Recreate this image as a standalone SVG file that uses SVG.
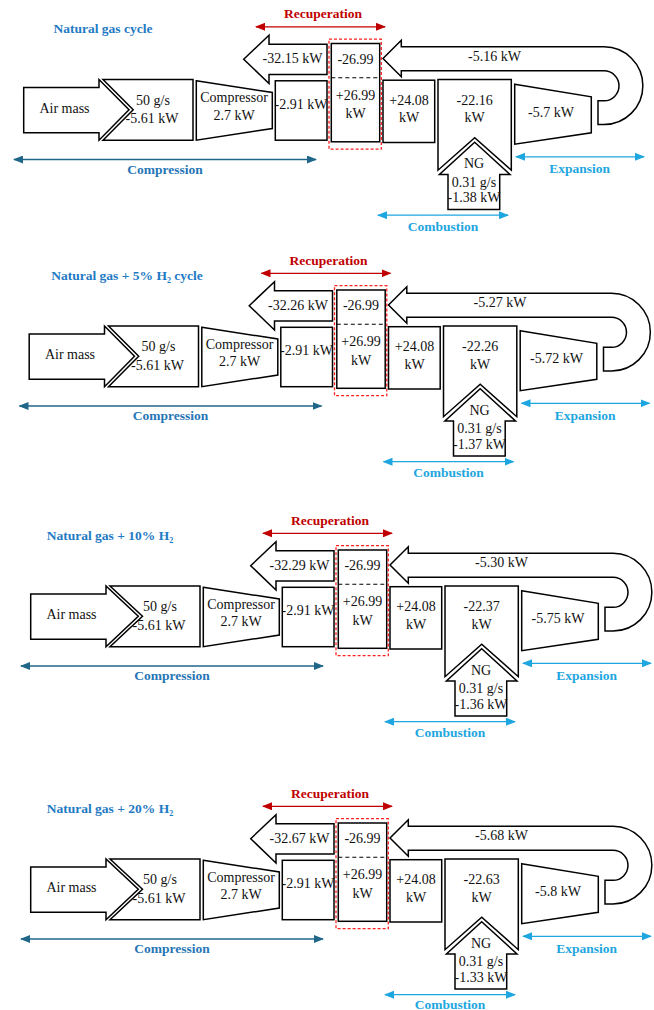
<svg xmlns="http://www.w3.org/2000/svg" width="654" height="1010" viewBox="0 0 654 1010">
<style>
.s{fill:#fff;stroke:#000;stroke-width:1.5;stroke-linejoin:miter}
.dl{stroke:#000;stroke-width:1.1;stroke-dasharray:4 3;fill:none}
.rd{fill:none;stroke:#ff2020;stroke-width:1.3;stroke-dasharray:3 2}
.t{font-family:"Liberation Serif","Times New Roman",serif;font-size:14px;text-anchor:middle;fill:#111}
.b{font-family:"Liberation Serif","Times New Roman",serif;font-weight:bold;font-size:13.5px;text-anchor:middle}
.ttl{fill:#1f7ac4}
.rc{fill:#c00000}
.cp{fill:#2676b6}
.ex{fill:#1ea6e0}
.lr{stroke:#c00000;stroke-width:1.3;fill:none;marker-start:url(#mr);marker-end:url(#mr)}
.lc{stroke:#1f6688;stroke-width:1.3;fill:none;marker-start:url(#mc);marker-end:url(#mc)}
.le{stroke:#1ea6e0;stroke-width:1.3;fill:none;marker-start:url(#me);marker-end:url(#me)}
</style>
<defs>
<marker id="mr" markerUnits="userSpaceOnUse" viewBox="0 0 10 8" refX="9" refY="4" markerWidth="10" markerHeight="8" orient="auto-start-reverse"><path d="M0,0 L10,4 L0,8 Z" fill="#c00000"/></marker>
<marker id="mc" markerUnits="userSpaceOnUse" viewBox="0 0 10 8" refX="9" refY="4" markerWidth="10" markerHeight="8" orient="auto-start-reverse"><path d="M0,0 L10,4 L0,8 Z" fill="#1f6688"/></marker>
<marker id="me" markerUnits="userSpaceOnUse" viewBox="0 0 10 8" refX="9" refY="4" markerWidth="10" markerHeight="8" orient="auto-start-reverse"><path d="M0,0 L10,4 L0,8 Z" fill="#1ea6e0"/></marker>
</defs>

<!-- Panel 1 -->
<g id="panel1" transform="translate(-7,-6.5)">
<text class="b ttl" x="110" y="39.5">Natural gas cycle</text>
<g id="p1-connectors">
<line class="lr" x1="263" y1="33.3" x2="392" y2="33.3"/>
<text class="b rc" x="330" y="24.5">Recuperation</text>
<line class="lc" x1="21" y1="166" x2="323" y2="166"/>
<text class="b cp" x="172" y="180.2">Compression</text>
<line class="le" x1="523" y1="163.3" x2="651" y2="163.3"/>
<text class="b ex" x="586.7" y="179.5">Expansion</text>
<line class="le" x1="385" y1="221.7" x2="515" y2="221.7"/>
<text class="b ex" x="450" y="237">Combustion</text>
</g>
<g id="p1-air"><polygon class="s" points="30.7,94 106,94 106,86 136,116.3 106,146.7 106,139.3 30.7,139.3"/><text class="t" x="71.5" y="119">Air mass</text></g>
<g id="p1-feed"><polygon class="s" points="110,86 200,86 200,146.7 110,146.7 140.2,116.3"/><text class="t" x="160" y="111.4">50 g/s</text><text class="t" x="159" y="129.7">-5.61 kW</text></g>
<g id="p1-compressor"><polygon class="s" points="203.3,87.3 279.3,99 279.3,135 203.3,146.7"/><text class="t" x="241" y="108.7">Compressor</text><text class="t" x="241" y="126.4">2.7 kW</text></g>
<g id="p1-loss"><rect class="s" x="282.3" y="87.3" width="51.7" height="59.4"/><text class="t" x="308" y="115.4">-2.91 kW</text></g>
<g id="p1-return"><polygon class="s" points="250.7,65.7 276,41.7 276,50.7 334,50.7 334,81 276,81 276,90"/><text class="t" x="299.5" y="69.5">-32.15 kW</text></g>
<g id="p1-recuperator"><rect class="s" x="338.3" y="50" width="48.4" height="98.3"/><line class="dl" x1="338.3" y1="84.3" x2="386.7" y2="84.3"/><rect class="rd" x="336" y="45.7" width="52.3" height="110"/><text class="t" x="362.5" y="70.4">-26.99</text><text class="t" x="362.5" y="106.4">+26.99</text><text class="t" x="362.5" y="124.7">kW</text></g>
<g id="p1-heater"><rect class="s" x="390" y="86.7" width="51.7" height="62.3"/><text class="t" x="416" y="111.4">+24.08</text><text class="t" x="416" y="128.7">kW</text></g>
<g id="p1-combustor"><polygon class="s" points="445,86 518.3,86 518.3,176.7 481.7,144.3 445,176.7"/><text class="t" x="481.7" y="111.4">-22.16</text><text class="t" x="481.7" y="128.7">kW</text></g>
<g id="p1-ng"><polygon class="s" points="481.7,148.7 517,181 506.7,181 506.7,216 455,216 455,181 446.4,181"/><text class="t" x="481" y="174.7">NG</text><text class="t" x="481" y="193">0.31 g/s</text><text class="t" x="481" y="208.7">-1.38 kW</text></g>
<g id="p1-turbine"><polygon class="s" points="521.7,90.7 598.3,103.3 598.3,139.3 521.7,150.7"/><text class="t" x="558" y="123">-5.7 kW</text></g>
<g id="p1-exhaust"><path class="s" d="M605,107.3 L611,107.3 A15,15 0 0 0 611,77.3 L408.3,77.3 L408.3,83.3 L390,65 L408.3,46.7 L408.3,53.3 L611,53.3 A38.85,38.85 0 0 1 611,131 L605,131 Z"/><text class="t" x="501.5" y="67.2">-5.16 kW</text></g>
</g>

<!-- Panel 2 -->
<g id="panel2" transform="translate(-1.5,240)">
<text class="b ttl" x="128.5" y="39.5">Natural gas + 5% H₂ cycle</text>
<g id="p2-connectors">
<line class="lr" x1="263" y1="33.3" x2="392" y2="33.3"/>
<text class="b rc" x="330" y="24.5">Recuperation</text>
<line class="lc" x1="21" y1="166" x2="323" y2="166"/>
<text class="b cp" x="172" y="180.2">Compression</text>
<line class="le" x1="523" y1="163.3" x2="651" y2="163.3"/>
<text class="b ex" x="586.7" y="179.5">Expansion</text>
<line class="le" x1="385" y1="221.7" x2="515" y2="221.7"/>
<text class="b ex" x="450" y="237">Combustion</text>
</g>
<g id="p2-air"><polygon class="s" points="30.7,94 106,94 106,86 136,116.3 106,146.7 106,139.3 30.7,139.3"/><text class="t" x="71.5" y="119">Air mass</text></g>
<g id="p2-feed"><polygon class="s" points="110,86 200,86 200,146.7 110,146.7 140.2,116.3"/><text class="t" x="160" y="111.4">50 g/s</text><text class="t" x="159" y="129.7">-5.61 kW</text></g>
<g id="p2-compressor"><polygon class="s" points="203.3,87.3 279.3,99 279.3,135 203.3,146.7"/><text class="t" x="241" y="108.7">Compressor</text><text class="t" x="241" y="126.4">2.7 kW</text></g>
<g id="p2-loss"><rect class="s" x="282.3" y="87.3" width="51.7" height="59.4"/><text class="t" x="308" y="115.4">-2.91 kW</text></g>
<g id="p2-return"><polygon class="s" points="250.7,65.7 276,41.7 276,50.7 334,50.7 334,81 276,81 276,90"/><text class="t" x="299.5" y="69.5">-32.26 kW</text></g>
<g id="p2-recuperator"><rect class="s" x="338.3" y="50" width="48.4" height="98.3"/><line class="dl" x1="338.3" y1="84.3" x2="386.7" y2="84.3"/><rect class="rd" x="336" y="45.7" width="52.3" height="110"/><text class="t" x="362.5" y="70.4">-26.99</text><text class="t" x="362.5" y="106.4">+26.99</text><text class="t" x="362.5" y="124.7">kW</text></g>
<g id="p2-heater"><rect class="s" x="390" y="86.7" width="51.7" height="62.3"/><text class="t" x="416" y="111.4">+24.08</text><text class="t" x="416" y="128.7">kW</text></g>
<g id="p2-combustor"><polygon class="s" points="445,86 518.3,86 518.3,176.7 481.7,144.3 445,176.7"/><text class="t" x="481.7" y="111.4">-22.26</text><text class="t" x="481.7" y="128.7">kW</text></g>
<g id="p2-ng"><polygon class="s" points="481.7,148.7 517,181 506.7,181 506.7,216 455,216 455,181 446.4,181"/><text class="t" x="481" y="174.7">NG</text><text class="t" x="481" y="193">0.31 g/s</text><text class="t" x="481" y="208.7">-1.37 kW</text></g>
<g id="p2-turbine"><polygon class="s" points="521.7,90.7 598.3,103.3 598.3,139.3 521.7,150.7"/><text class="t" x="558" y="123">-5.72 kW</text></g>
<g id="p2-exhaust"><path class="s" d="M605,107.3 L613,107.3 A15,15 0 0 0 613,77.3 L408.3,77.3 L408.3,83.3 L390,65 L408.3,46.7 L408.3,53.3 L613,53.3 A38.85,38.85 0 0 1 613,131 L605,131 Z"/><text class="t" x="501.5" y="67.2">-5.27 kW</text></g>
</g>

<!-- Panel 3 -->
<g id="panel3" transform="translate(0,500)">
<text class="b ttl" x="110" y="39.5">Natural gas + 10% H₂</text>
<g id="p3-connectors">
<line class="lr" x1="263" y1="33.3" x2="392" y2="33.3"/>
<text class="b rc" x="330" y="24.5">Recuperation</text>
<line class="lc" x1="21" y1="166" x2="323" y2="166"/>
<text class="b cp" x="172" y="180.2">Compression</text>
<line class="le" x1="523" y1="163.3" x2="651" y2="163.3"/>
<text class="b ex" x="586.7" y="179.5">Expansion</text>
<line class="le" x1="385" y1="221.7" x2="515" y2="221.7"/>
<text class="b ex" x="450" y="237">Combustion</text>
</g>
<g id="p3-air"><polygon class="s" points="30.7,94 106,94 106,86 138.3,116.3 106,146.7 106,139.3 30.7,139.3"/><text class="t" x="71.5" y="119">Air mass</text></g>
<g id="p3-feed"><polygon class="s" points="110,86 200,86 200,146.7 110,146.7 142.5,116.3"/><text class="t" x="160" y="111.4">50 g/s</text><text class="t" x="159" y="129.7">-5.61 kW</text></g>
<g id="p3-compressor"><polygon class="s" points="203.3,87.3 279.3,99 279.3,135 203.3,146.7"/><text class="t" x="241" y="108.7">Compressor</text><text class="t" x="241" y="126.4">2.7 kW</text></g>
<g id="p3-loss"><rect class="s" x="282.3" y="87.3" width="51.7" height="59.4"/><text class="t" x="308" y="115.4">-2.91 kW</text></g>
<g id="p3-return"><polygon class="s" points="250.7,65.7 276,41.7 276,50.7 334,50.7 334,81 276,81 276,90"/><text class="t" x="299.5" y="69.5">-32.29 kW</text></g>
<g id="p3-recuperator"><rect class="s" x="338.3" y="50" width="48.4" height="98.3"/><line class="dl" x1="338.3" y1="84.3" x2="386.7" y2="84.3"/><rect class="rd" x="336" y="45.7" width="52.3" height="110"/><text class="t" x="362.5" y="70.4">-26.99</text><text class="t" x="362.5" y="106.4">+26.99</text><text class="t" x="362.5" y="124.7">kW</text></g>
<g id="p3-heater"><rect class="s" x="390" y="86.7" width="51.7" height="62.3"/><text class="t" x="416" y="111.4">+24.08</text><text class="t" x="416" y="128.7">kW</text></g>
<g id="p3-combustor"><polygon class="s" points="445,86 518.3,86 518.3,176.7 481.7,144.3 445,176.7"/><text class="t" x="481.7" y="111.4">-22.37</text><text class="t" x="481.7" y="128.7">kW</text></g>
<g id="p3-ng"><polygon class="s" points="481.7,148.7 517,181 506.7,181 506.7,216 455,216 455,181 446.4,181"/><text class="t" x="481" y="174.7">NG</text><text class="t" x="481" y="193">0.31 g/s</text><text class="t" x="481" y="208.7">-1.36 kW</text></g>
<g id="p3-turbine"><polygon class="s" points="521.7,90.7 598.3,103.3 598.3,139.3 521.7,150.7"/><text class="t" x="558" y="123">-5.75 kW</text></g>
<g id="p3-exhaust"><path class="s" d="M605,107.3 L613,107.3 A15,15 0 0 0 613,77.3 L408.3,77.3 L408.3,83.3 L390,65 L408.3,46.7 L408.3,53.3 L613,53.3 A38.85,38.85 0 0 1 613,131 L605,131 Z"/><text class="t" x="501.5" y="67.2">-5.30 kW</text></g>
</g>

<!-- Panel 4 -->
<g id="panel4" transform="translate(0,773)">
<text class="b ttl" x="110" y="39.5">Natural gas + 20% H₂</text>
<g id="p4-connectors">
<line class="lr" x1="263" y1="33.3" x2="392" y2="33.3"/>
<text class="b rc" x="330" y="24.5">Recuperation</text>
<line class="lc" x1="21" y1="166" x2="323" y2="166"/>
<text class="b cp" x="172" y="180.2">Compression</text>
<line class="le" x1="523" y1="163.3" x2="651" y2="163.3"/>
<text class="b ex" x="586.7" y="179.5">Expansion</text>
<line class="le" x1="385" y1="221.7" x2="515" y2="221.7"/>
<text class="b ex" x="450" y="235.5">Combustion</text>
</g>
<g id="p4-air"><polygon class="s" points="30.7,94 106,94 106,86 138.3,116.3 106,146.7 106,139.3 30.7,139.3"/><text class="t" x="71.5" y="119">Air mass</text></g>
<g id="p4-feed"><polygon class="s" points="110,86 200,86 200,146.7 110,146.7 142.5,116.3"/><text class="t" x="160" y="111.4">50 g/s</text><text class="t" x="159" y="129.7">-5.61 kW</text></g>
<g id="p4-compressor"><polygon class="s" points="203.3,87.3 279.3,99 279.3,135 203.3,146.7"/><text class="t" x="241" y="108.7">Compressor</text><text class="t" x="241" y="126.4">2.7 kW</text></g>
<g id="p4-loss"><rect class="s" x="282.3" y="87.3" width="51.7" height="59.4"/><text class="t" x="308" y="115.4">-2.91 kW</text></g>
<g id="p4-return"><polygon class="s" points="250.7,65.7 276,41.7 276,50.7 334,50.7 334,81 276,81 276,90"/><text class="t" x="299.5" y="69.5">-32.67 kW</text></g>
<g id="p4-recuperator"><rect class="s" x="338.3" y="50" width="48.4" height="98.3"/><line class="dl" x1="338.3" y1="84.3" x2="386.7" y2="84.3"/><rect class="rd" x="336" y="45.7" width="52.3" height="110"/><text class="t" x="362.5" y="70.4">-26.99</text><text class="t" x="362.5" y="106.4">+26.99</text><text class="t" x="362.5" y="124.7">kW</text></g>
<g id="p4-heater"><rect class="s" x="390" y="86.7" width="51.7" height="62.3"/><text class="t" x="416" y="111.4">+24.08</text><text class="t" x="416" y="128.7">kW</text></g>
<g id="p4-combustor"><polygon class="s" points="445,86 518.3,86 518.3,176.7 481.7,144.3 445,176.7"/><text class="t" x="481.7" y="111.4">-22.63</text><text class="t" x="481.7" y="128.7">kW</text></g>
<g id="p4-ng"><polygon class="s" points="481.7,148.7 517,181 506.7,181 506.7,216 455,216 455,181 446.4,181"/><text class="t" x="481" y="174.7">NG</text><text class="t" x="481" y="193">0.31 g/s</text><text class="t" x="481" y="208.7">-1.33 kW</text></g>
<g id="p4-turbine"><polygon class="s" points="521.7,90.7 598.3,103.3 598.3,139.3 521.7,150.7"/><text class="t" x="558" y="123">-5.8 kW</text></g>
<g id="p4-exhaust"><path class="s" d="M605,107.3 L613,107.3 A15,15 0 0 0 613,77.3 L408.3,77.3 L408.3,83.3 L390,65 L408.3,46.7 L408.3,53.3 L613,53.3 A38.85,38.85 0 0 1 613,131 L605,131 Z"/><text class="t" x="501.5" y="67.2">-5.68 kW</text></g>
</g>
</svg>
